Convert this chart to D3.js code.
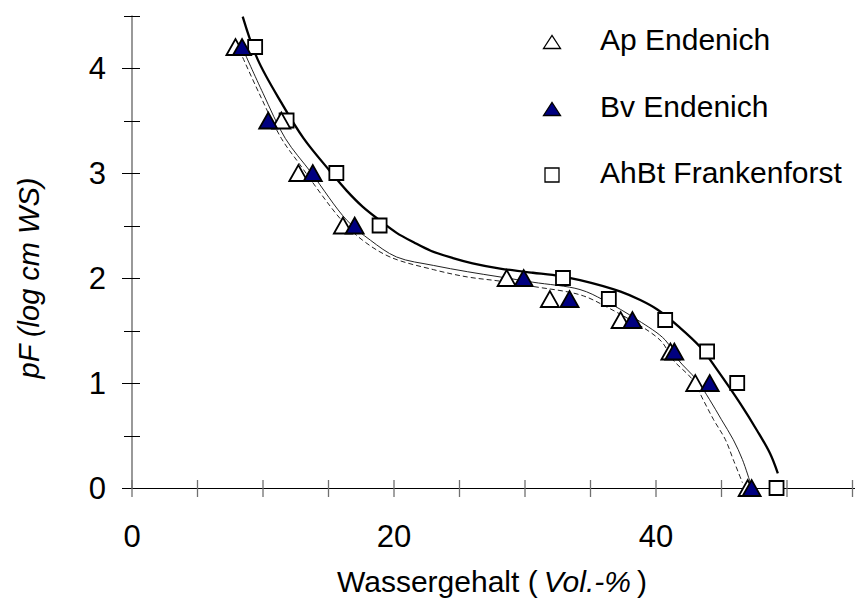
<!DOCTYPE html>
<html>
<head>
<meta charset="utf-8">
<script src="https://cdn.jsdelivr.net/npm/d3@7"></script>
<style>
  body { margin: 0; background: #fff; }
  svg { display: block; font-family: "Liberation Sans", Arial, sans-serif; }
</style>
</head>
<body>
<svg id="chart" width="855" height="601"></svg>
<script>
// measured points (pF levels shared by all three soils)
const pfLevels = [4.2, 3.5, 3.0, 2.5, 2.0, 1.8, 1.6, 1.3, 1.0, 0];
const apWater   = [7.9, 11.4, 12.7, 16.1, 28.6, 31.9, 37.3, 41.1, 43.0, 47.0];
const bvWater   = [8.4, 10.4, 13.8, 17.0, 29.9, 33.4, 38.2, 41.4, 44.1, 47.3];
const ahbtWater = [9.4, 11.8, 15.6, 18.9, 32.9, 36.4, 40.7, 43.9, 46.2, 49.2];

// fitted retention curves
const apCurveX = [8.2, 9.7, 11.4, 12.7, 16.0, 17.6, 19.7, 23.0, 25.6, 28.1, 30.6, 34.2, 36.0, 40.3, 41.3, 42.8, 43.6, 44.4, 45.3, 45.9, 46.6];
const apCurveY = [4.17, 3.76, 3.33, 3.10, 2.55, 2.36, 2.20, 2.08, 2.01, 1.97, 1.92, 1.84, 1.74, 1.41, 1.22, 1.03, 0.84, 0.65, 0.46, 0.27, 0.05];
const bvCurveX = [8.5, 10.0, 11.7, 13.7, 16.4, 18.2, 20.2, 23.0, 25.6, 28.1, 30.6, 34.2, 36.0, 38.6, 40.7, 41.7, 43.1, 44.1, 45.0, 45.9, 46.6, 47.2];
const bvCurveY = [4.17, 3.76, 3.33, 3.00, 2.55, 2.36, 2.20, 2.12, 2.06, 2.01, 1.96, 1.89, 1.79, 1.60, 1.41, 1.22, 1.03, 0.84, 0.65, 0.46, 0.27, 0.05];
const ahbtCurveX = [8.45, 9.6, 11.4, 13.1, 15.1, 16.4, 17.6, 18.9, 20.2, 21.5, 22.8, 24.5, 26.0, 28.1, 30.6, 32.1, 34.2, 37.3, 38.8, 40.1, 41.8, 43.4, 44.7, 46.4, 47.7, 48.7, 49.3];
const ahbtCurveY = [4.49, 4.08, 3.67, 3.33, 3.02, 2.83, 2.68, 2.55, 2.43, 2.34, 2.26, 2.19, 2.14, 2.09, 2.05, 2.03, 1.98, 1.87, 1.79, 1.70, 1.53, 1.34, 1.12, 0.81, 0.55, 0.33, 0.14];

const xTicks = [0, 5, 10, 15, 20, 25, 30, 35, 40, 45, 50, 55];
const xTickLabels = [0, 20, 40];
const yTicks = [0, 0.5, 1, 1.5, 2, 2.5, 3, 3.5, 4, 4.5];
const yTickLabels = [0, 1, 2, 3, 4];
const seriesNames = ["Ap Endenich", "Bv Endenich", "AhBt Frankenforst"];

const svg = d3.select("#chart");
const x = d3.scaleLinear().domain([0, 55]).range([132, 852.5]);
const y = d3.scaleLinear().domain([0, 4.5]).range([488, 15.5]);

// y axis
svg.append("line")
  .attr("x1", 132).attr("x2", 132).attr("y1", y(4.5)).attr("y2", y(0))
  .attr("stroke", "#808080").attr("stroke-width", 1.6);
svg.append("g").selectAll("line").data(yTicks).join("line")
  .attr("x1", d => Number.isInteger(d) ? 122 : 124).attr("x2", 140)
  .attr("y1", d => Math.round(y(d)) + 0.5).attr("y2", d => Math.round(y(d)) + 0.5)
  .attr("stroke", "#000");
svg.append("g").selectAll("text").data(yTickLabels).join("text")
  .attr("x", 106).attr("y", d => y(d) + 11)
  .attr("text-anchor", "end").attr("font-size", 31)
  .text(d => d);

// x axis
svg.append("line")
  .attr("x1", 132).attr("x2", 855).attr("y1", 488.5).attr("y2", 488.5)
  .attr("stroke", "#000");
svg.append("g").selectAll("line").data(xTicks).join("line")
  .attr("x1", d => x(d)).attr("x2", d => x(d)).attr("y1", 480).attr("y2", 497)
  .attr("stroke", "#707070").attr("stroke-width", 1.3);
svg.append("g").selectAll("text").data(xTickLabels).join("text")
  .attr("x", d => x(d)).attr("y", 547)
  .attr("text-anchor", "middle").attr("font-size", 31)
  .text(d => d);

// axis titles
const xt = svg.append("text").attr("x", 492).attr("y", 592)
  .attr("text-anchor", "middle").attr("font-size", 30);
xt.append("tspan").text("Wassergehalt (\u2009");
xt.append("tspan").attr("font-style", "italic").text("Vol.-%");
xt.append("tspan").text("\u2009)");

svg.append("text")
  .attr("transform", "translate(39,278) rotate(-90)")
  .attr("text-anchor", "middle").attr("font-size", 29).attr("font-style", "italic")
  .text("pF (log cm WS)");

// curves
const line = d3.line().x(d => x(d[0])).y(d => y(d[1])).curve(d3.curveCatmullRom.alpha(0.5));
const curves = [
  { xs: apCurveX, ys: apCurveY, w: 1, dash: "5,3", col: "#222" },
  { xs: bvCurveX, ys: bvCurveY, w: 1, dash: null, col: "#222" },
  { xs: ahbtCurveX, ys: ahbtCurveY, w: 2.3, dash: null, col: "#000" }
];
curves.forEach(c => {
  svg.append("path")
    .attr("d", line(c.xs.map((v, i) => [v, c.ys[i]])))
    .attr("fill", "none").attr("stroke", c.col)
    .attr("stroke-width", c.w).attr("stroke-dasharray", c.dash);
});

// markers
function triPath(w, h) {
  return `M${-w / 2},${h / 2}L0,${-h / 2}L${w / 2},${h / 2}Z`;
}
function sqPath(s) {
  return `M${-s / 2},${-s / 2}h${s}v${s}h${-s}Z`;
}
const markerDefs = [
  { data: apWater, shape: "tri", fill: "#fff" },
  { data: bvWater, shape: "tri", fill: "#000080" },
  { data: ahbtWater, shape: "sq", fill: "#fff" }
];
// draw squares first, then open triangles, then filled ones
[2, 0, 1].forEach(k => {
  const m = markerDefs[k];
  svg.append("g").selectAll("path").data(m.data).join("path")
    .attr("transform", (d, i) => `translate(${x(d)},${y(pfLevels[i])})`)
    .attr("d", m.shape === "tri" ? triPath(18, 16) : sqPath(14))
    .attr("fill", m.fill).attr("stroke", "#000").attr("stroke-width", 1.8)
    .attr("stroke-linejoin", "miter");
});

// legend
const legendRows = [42, 109, 175];
const lg = svg.append("g");
seriesNames.forEach((name, i) => {
  const m = markerDefs[i];
  lg.append("path")
    .attr("transform", `translate(552,${legendRows[i]})`)
    .attr("d", m.shape === "tri" ? triPath(17, 13) : sqPath(14))
    .attr("fill", m.fill).attr("stroke", "#000").attr("stroke-width", 1.3);
  lg.append("text")
    .attr("x", 600).attr("y", legendRows[i] + 8)
    .attr("font-size", 30)
    .text(name);
});
</script>
</body>
</html>
